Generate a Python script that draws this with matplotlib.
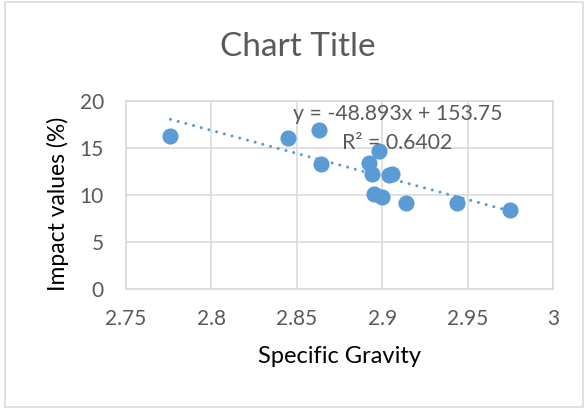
import matplotlib
matplotlib.use("Agg")
import matplotlib.pyplot as plt
from matplotlib.patches import Rectangle
import numpy as np

plt.rcParams["font.family"] = ["Lato", "DejaVu Sans"]

# specific gravity vs impact value
specific_gravity = [2.776, 2.845, 2.863, 2.864, 2.892, 2.898, 2.894, 2.904,
                    2.906, 2.895, 2.900, 2.914, 2.944, 2.975]
impact_values = [16.3, 16.0, 16.9, 13.3, 13.4, 14.7, 12.2, 12.1,
                 12.2, 10.1, 9.8, 9.1, 9.2, 8.4]
x_ticks = [2.75, 2.8, 2.85, 2.9, 2.95, 3.0]
x_tick_labels = ["2.75", "2.8", "2.85", "2.9", "2.95", "3"]
y_ticks = [0, 5, 10, 15, 20]

# trendline as printed on the chart
slope, intercept, r2 = -48.893, 153.75, 0.6402

BLUE = "#5B9BD5"
GRID = "#D9D9D9"
GREY = "#595959"

fig = plt.figure(figsize=(5.84, 4.08), dpi=100)
ax = fig.add_axes([0.2158, 0.2909, 0.7312, 0.4623])

ax.scatter(specific_gravity, impact_values, s=135, color=BLUE, zorder=3,
           linewidths=0)

tx = np.array([min(specific_gravity), max(specific_gravity)])
ax.plot(tx, slope * tx + intercept, color=BLUE, lw=2.2,
        linestyle=(0, (0.01, 2.6)), dash_capstyle="round", zorder=2)

ax.set_xlim(2.75, 3.0)
ax.set_ylim(0, 20)
ax.set_xticks(x_ticks)
ax.set_xticklabels(x_tick_labels)
ax.set_yticks(y_ticks)
ax.grid(True, color=GRID, lw=1.1)
ax.set_axisbelow(True)
for s in ax.spines.values():
    s.set_color(GRID)
    s.set_linewidth(1.1)
ax.tick_params(length=0, labelsize=15, colors=GREY)
ax.tick_params(axis="x", pad=14)
ax.tick_params(axis="y", pad=16)

ax.set_xlabel("Specific Gravity", fontsize=17, color="black", va="center")
ax.xaxis.set_label_coords(0.499, -0.358)
ax.set_ylabel("Impact values (%)", fontsize=16.5, color="black", va="center")
ax.yaxis.set_label_coords(-0.159, 0.452)

ax.text(2.9089, 18.54, f"y = {slope}x + {intercept}", fontsize=15.3,
        color=GREY, ha="center", va="center", zorder=5)
ax.text(2.9089, 15.5, f"R² = {r2}", fontsize=15.3,
        color=GREY, ha="center", va="center", zorder=5)

fig.text(0.51, 0.885, "Chart Title", fontsize=24, color=GREY,
         ha="center", va="center")

fig.patches.append(Rectangle((5 / 584, 1 / 408), 578 / 584, 405 / 408,
                             transform=fig.transFigure, fill=False,
                             edgecolor=GRID, lw=1.1))

fig.savefig("out.png", dpi=100)
